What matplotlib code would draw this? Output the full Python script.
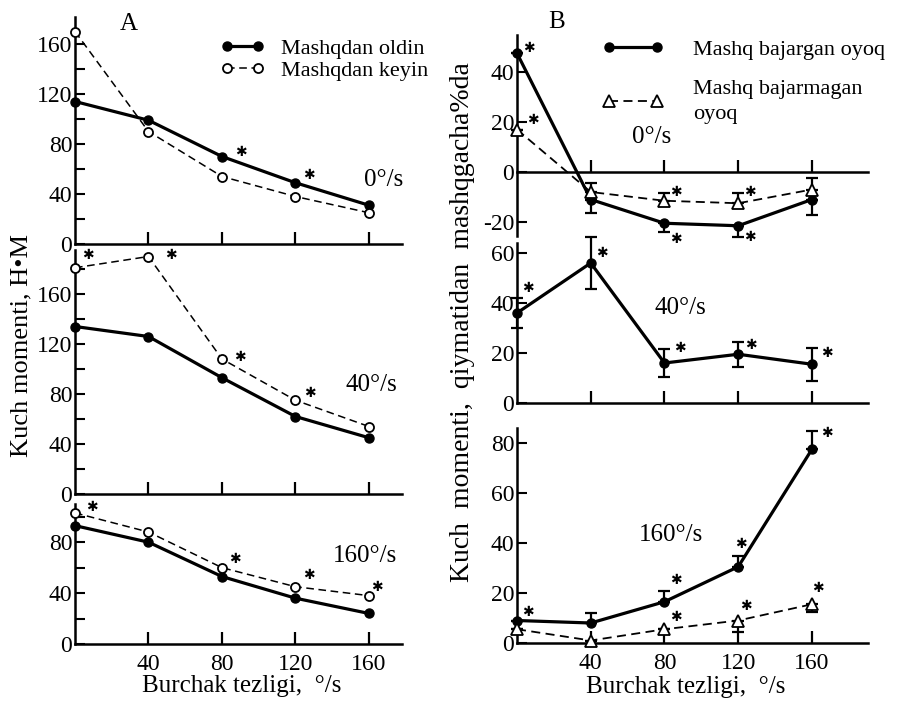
import numpy as np
import matplotlib.pyplot as plt

plt.rcParams['font.family'] = 'Liberation Serif'
plt.rcParams['axes.unicode_minus'] = False

speed = [0, 40, 80, 120, 160]

# A: kuch momenti, H*M
a0_oldin = [114, 99, 70, 49, 31]
a0_keyin = [170, 90, 54, 38, 25]
a40_oldin = [134, 126, 93, 62, 45]
a40_keyin = [181, 190, 108, 75, 54]
a160_oldin = [93, 80, 53, 36, 24]
a160_keyin = [103, 88, 60, 45, 38]

# B: % o'zgarish
b0_bajargan = [47.5, -11, -20.5, -21.5, -11]
b0_bajargan_err = [0, 5.5, 3.5, 4.5, 6]        # pastga
b0_bajarmagan = [17, -8, -11.5, -12.5, -7]
b0_bajarmagan_err = [0, 3.5, 3, 4, 4.5]        # yuqoriga
b40_bajargan = [36, 56, 16, 19.5, 15.5]
b40_bajargan_err = [6, 10.5, 5.5, 5, 6.5]
b160_bajargan = [9, 8, 16.5, 30.5, 77.5]
b160_bajargan_err = [0, 4, 4.5, 4.5, 7.5]      # yuqoriga
b160_bajarmagan = [5.5, 1, 5.5, 9, 15.5]
b160_bajarmagan_err = [0, 0, 0, 4.5, 3]        # pastga

W, H = 901, 701


def rect(x0, x1, ytop, ybot):
    return [x0 / W, 1 - ybot / H, (x1 - x0) / W, (ybot - ytop) / H]


def setup(ax, xmax, ylim, yticks, yminor=None, xlabels=False):
    ax.set_xlim(0, xmax)
    ax.set_ylim(*ylim)
    for s in ['top', 'right']:
        ax.spines[s].set_visible(False)
    for s in ['left', 'bottom']:
        ax.spines[s].set_linewidth(1.8)
    ax.set_xticks([40, 80, 120, 160])
    ax.set_yticks(yticks)
    if yminor is not None:
        ax.set_yticks(yminor, minor=True)
    ax.tick_params(axis='x', direction='in', length=9, width=1.6, pad=7,
                   labelsize=17, labelbottom=xlabels)
    ax.tick_params(axis='y', which='both', direction='in', length=7,
                   width=1.5, pad=2, labelsize=17)


def stars(ax, y, marks):
    for i, dx, dy in marks:
        ax.annotate('✱', (speed[i], y[i]), xytext=(dx, -dy),
                    textcoords='offset pixels', ha='center', va='center',
                    fontsize=10, family='DejaVu Sans', annotation_clip=False)


def solid(ax, y, label=None):
    return ax.plot(speed, y, '-o', color='k', lw=2.3, ms=6.5, clip_on=False,
                   zorder=4, label=label)[0]


def open_circ(ax, y, label=None):
    return ax.plot(speed, y, '--o', color='k', lw=1.1, ms=6.5, mfc='white',
                   mec='k', mew=1.3, dashes=(5, 3), clip_on=False,
                   zorder=4, label=label)[0]


def tri(ax, y, label=None):
    return ax.plot(speed, y, '--^', color='k', lw=1.3, ms=8.5, mfc='white',
                   mec='k', mew=1.3, dashes=(5, 3), clip_on=False,
                   zorder=4, label=label)[0]


def ebar(ax, y, lower, upper):
    ax.errorbar(speed, y, yerr=[lower, upper], fmt='none', ecolor='k',
                elinewidth=1.6, capsize=4, capthick=1.6, clip_on=False,
                zorder=3)


fig = plt.figure(figsize=(9.01, 7.01), dpi=100)

# ---- A ----
ax1 = fig.add_axes(rect(75, 402, 17, 244))
setup(ax1, 178, (0, 181.6), [0, 40, 80, 120, 160], [20, 60, 100, 140])
l1 = solid(ax1, a0_oldin, 'Mashqdan oldin')
l2 = open_circ(ax1, a0_keyin, 'Mashqdan keyin')
stars(ax1, a0_oldin, [(2, 19, -4), (3, 13, -8)])
ax1.legend(handles=[l1, l2], loc='upper left', bbox_to_anchor=(0.445, 0.905),
           frameon=False, fontsize=16, numpoints=2, handlelength=2.0,
           handletextpad=0.7, labelspacing=0.05, borderpad=0,
           borderaxespad=0)

ax2 = fig.add_axes(rect(75, 402, 250, 494))
setup(ax2, 178, (0, 195.2), [0, 40, 80, 120, 160], [20, 60, 100, 140, 180])
solid(ax2, a40_oldin)
open_circ(ax2, a40_keyin)
stars(ax2, a40_keyin, [(0, 13, -13), (1, 22, -1), (2, 18, -2), (3, 14, -7)])

ax3 = fig.add_axes(rect(75, 402, 504, 644))
setup(ax3, 178, (0, 110), [0, 40, 80], [20, 60, 100], xlabels=True)
solid(ax3, a160_oldin)
open_circ(ax3, a160_keyin)
stars(ax3, a160_keyin, [(0, 17, -6), (2, 13, -9), (3, 13, -12), (4, 8, -9)])

# ---- B ----
zeros = [0] * 5
bx1 = fig.add_axes(rect(517, 868, 35, 236))
setup(bx1, 190.4, (-25.6, 54.8), [-20, 0, 20, 40])
bx1.spines['bottom'].set_position(('data', 0))
ebar(bx1, b0_bajargan, b0_bajargan_err, zeros)
ebar(bx1, b0_bajarmagan, zeros, b0_bajarmagan_err)
m1 = solid(bx1, b0_bajargan, 'Mashq bajargan oyoq')
m2 = tri(bx1, b0_bajarmagan, 'Mashq bajarmagan\noyoq')
stars(bx1, b0_bajargan, [(0, 12, -5), (2, 11, 16), (3, 12, 11)])
stars(bx1, b0_bajarmagan, [(0, 16, -10), (2, 11, -9), (3, 12, -11)])
leg = bx1.legend(handles=[m1, m2], loc='upper left',
                 bbox_to_anchor=(0.242, 0.98), frameon=False, fontsize=16,
                 numpoints=2, handlelength=2.8, handletextpad=1.3,
                 labelspacing=0.9, borderpad=0, borderaxespad=0)
leg.get_texts()[1].set_linespacing(1.45)

bx2 = fig.add_axes(rect(517, 868, 243, 403))
setup(bx2, 190.4, (0, 64), [0, 20, 40, 60])
ebar(bx2, b40_bajargan, b40_bajargan_err, b40_bajargan_err)
solid(bx2, b40_bajargan)
stars(bx2, b40_bajargan, [(0, 11, -25), (1, 11, -10), (2, 15, -15),
                          (3, 13, -9), (4, 15, -11)])

bx3 = fig.add_axes(rect(517, 868, 428, 643))
setup(bx3, 190.4, (0, 86), [0, 20, 40, 60, 80], xlabels=True)
ebar(bx3, b160_bajargan, zeros, b160_bajargan_err)
ebar(bx3, b160_bajarmagan, b160_bajarmagan_err, zeros)
solid(bx3, b160_bajargan)
tri(bx3, b160_bajarmagan)
stars(bx3, b160_bajargan, [(0, 11, -8), (2, 11, -22), (3, 3, -23), (4, 15, -16)])
stars(bx3, b160_bajarmagan, [(2, 11, -12), (3, 8, -15), (4, 6, -16)])

# matnlar
fig.text(129 / W, 1 - 24 / H, 'A', fontsize=18, ha='center', va='center')
fig.text(557 / W, 1 - 22 / H, 'B', fontsize=18, ha='center', va='center')
for x, y, s in [(384, 180, '0°/s'), (371, 385, '40°/s'), (365, 556, '160°/s'),
                (652, 137, '0°/s'), (680, 308, '40°/s'), (671, 535, '160°/s')]:
    fig.text(x / W, 1 - y / H, s, fontsize=18, ha='center', va='center')

fig.text(21 / W, 1 - 346 / H, 'Kuch momenti, H•M', fontsize=19,
         rotation=90, ha='center', va='center')
fig.text(462 / W, 1 - 322 / H, 'Kuch  momenti,  qiymatidan  mashqgacha%da',
         fontsize=20, rotation=90, ha='center', va='center')
fig.text(242 / W, 1 - 686 / H, 'Burchak tezligi,  °/s', fontsize=18,
         ha='center', va='center')
fig.text(686 / W, 1 - 687 / H, 'Burchak tezligi,  °/s', fontsize=18,
         ha='center', va='center')

fig.savefig('out.png', dpi=100)
